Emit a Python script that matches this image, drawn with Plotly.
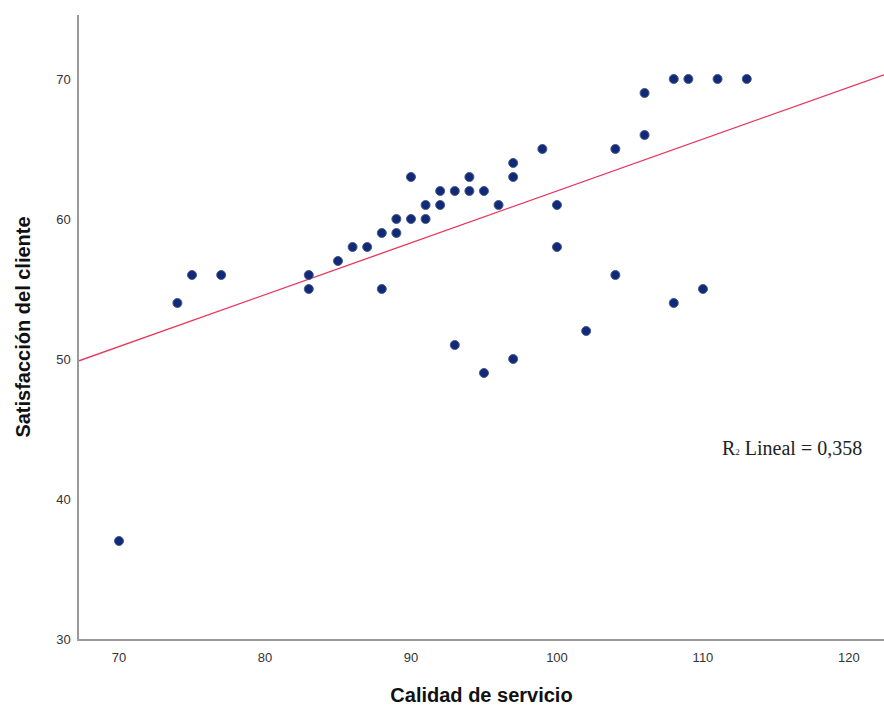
import numpy as np
import plotly.graph_objects as go

calidad = [70, 74, 75, 77, 83, 83, 85, 86, 87, 88, 88, 89, 89, 90, 90, 91, 91, 92, 92,
           93, 93, 94, 94, 95, 95, 96, 97, 97, 97, 99, 100, 100, 102, 104, 104, 106, 106,
           108, 108, 109, 110, 111, 113]
satisfaccion = [37, 54, 56, 56, 56, 55, 57, 58, 58, 59, 55, 60, 59, 63, 60, 61, 60, 62, 61,
                62, 51, 63, 62, 62, 49, 61, 64, 63, 50, 65, 61, 58, 52, 65, 56, 69, 66,
                70, 54, 70, 55, 70, 70]
x_ticks = [70, 80, 90, 100, 110, 120]
y_ticks = [30, 40, 50, 60, 70]
x_range = [67.26, 122.4]
y_range = [30, 74.57]
# linear fit as shown on the chart
fit_slope = 0.3705
fit_intercept = 24.95
r2_value = 0.358

lx = np.array(x_range)
ly = fit_slope * lx + fit_intercept

fig = go.Figure()
fig.add_trace(go.Scatter(x=lx, y=ly, mode="lines",
                         line=dict(color="#e8355a", width=1.3), hoverinfo="skip"))
fig.add_trace(go.Scatter(x=calidad, y=satisfaccion, mode="markers",
                         marker=dict(size=9, color="#102a78",
                                     line=dict(color="#4a5a88", width=1))))

fig.add_annotation(x=1.0, xref="paper", xanchor="right", xshift=-20,
                   y=(639 - 448) / 624, yref="paper", yanchor="middle",
                   text="R<span style='font-size:9px'>2</span> Lineal = "
                        + f"{r2_value:.3f}".replace(".", ","),
                   showarrow=False,
                   font=dict(family="Liberation Serif", size=20, color="#222222"))

fig.update_layout(
    width=884, height=706,
    margin=dict(l=79, r=0, t=15, b=67),
    paper_bgcolor="white", plot_bgcolor="white",
    showlegend=False,
    font=dict(family="Liberation Sans", color="#222222"),
)
fig.update_xaxes(range=x_range, tickvals=x_ticks, showgrid=False, zeroline=False,
                 showline=True, linecolor="#9a9a9a", linewidth=1.5, ticks="",
                 tickfont=dict(size=13, color="#333333"), ticklabelstandoff=6,
                 title=dict(text="<b>Calidad de servicio</b>", font=dict(size=20, color="#111111"),
                            standoff=25))
fig.update_yaxes(range=y_range, tickvals=y_ticks, showgrid=False, zeroline=False,
                 showline=True, linecolor="#9a9a9a", linewidth=1.5, ticks="",
                 tickfont=dict(size=13, color="#333333"), ticklabelstandoff=4,
                 title=dict(text="<b>Satisfacción del cliente</b>", font=dict(size=20, color="#111111"),
                            standoff=20))
fig.write_html("out.html")
